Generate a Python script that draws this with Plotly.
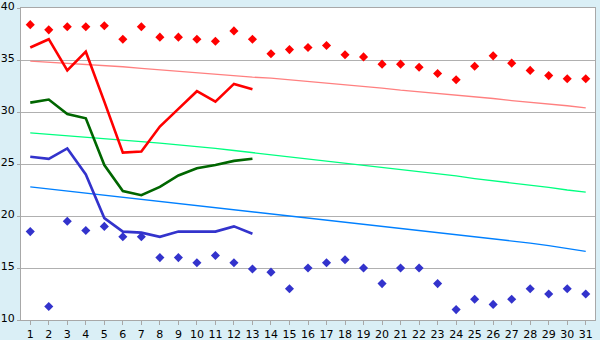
import plotly.graph_objects as go

days = list(range(1, 32))

# record highs / lows (markers)
rec_max = [38.4, 37.9, 38.2, 38.2, 38.3, 37.0, 38.2, 37.2, 37.2, 37.0, 36.8, 37.8, 37.0,
           35.6, 36.0, 36.2, 36.4, 35.5, 35.3, 34.6, 34.6, 34.3, 33.7, 33.1, 34.4, 35.4,
           34.7, 34.0, 33.5, 33.2, 33.2]
rec_min = [18.5, 11.3, 19.5, 18.6, 19.0, 18.0, 18.0, 16.0, 16.0, 15.5, 16.2, 15.5, 14.9,
           14.6, 13.0, 15.0, 15.5, 15.8, 15.0, 13.5, 15.0, 15.0, 13.5, 11.0, 12.0, 11.5,
           12.0, 13.0, 12.5, 13.0, 12.5]

# normals (trend lines)
norm_max = [34.9, 34.8, 34.7, 34.6, 34.5, 34.35, 34.2, 34.05, 33.9, 33.8, 33.65, 33.5,
            33.35, 33.25, 33.1, 32.95, 32.8, 32.6, 32.45, 32.3, 32.1, 31.95, 31.75, 31.6,
            31.45, 31.3, 31.1, 30.95, 30.8, 30.6, 30.4]
norm_mean = [28.0, 27.87, 27.73, 27.6, 27.45, 27.3, 27.15, 27.0, 26.85, 26.7, 26.5, 26.3,
             26.1, 25.9, 25.65, 25.45, 25.25, 25.05, 24.85, 24.65, 24.45, 24.25, 24.05,
             23.85, 23.6, 23.4, 23.2, 22.95, 22.75, 22.5, 22.3]
norm_min = [22.8, 22.6, 22.4, 22.2, 22.0, 21.85, 21.65, 21.45, 21.25, 21.05, 20.85, 20.65,
            20.45, 20.25, 20.0, 19.8, 19.6, 19.4, 19.2, 19.0, 18.8, 18.6, 18.45, 18.25,
            18.0, 17.8, 17.6, 17.4, 17.15, 16.9, 16.6]

# observed this month (days 1-13)
obs_days = list(range(1, 14))
obs_max = [36.2, 37.0, 34.0, 35.8, 31.0, 26.1, 26.2, 28.6, 30.3, 32.0, 31.0, 32.7, 32.2]
obs_mean = [30.9, 31.2, 29.8, 29.4, 24.9, 22.4, 22.0, 22.8, 23.9, 24.6, 24.9, 25.3, 25.5]
obs_min = [25.7, 25.5, 26.5, 24.0, 19.8, 18.5, 18.4, 18.0, 18.5, 18.5, 18.5, 19.0, 18.3]

y_ticks = [10, 15, 20, 25, 30, 35, 40]

fig = go.Figure()

def line(x, y, color, width):
    fig.add_trace(go.Scatter(x=x, y=y, mode="lines",
                             line=dict(color=color, width=width), hoverinfo="skip"))

line(days, norm_max, "#FF8080", 1.3)
line(days, norm_mean, "#00FF80", 1.3)
line(days, norm_min, "#0080FF", 1.3)
line(obs_days, obs_max, "#FF0000", 2.6)
line(obs_days, obs_mean, "#006600", 2.6)
line(obs_days, obs_min, "#3333CC", 2.6)

fig.add_trace(go.Scatter(x=days, y=rec_max, mode="markers",
                         marker=dict(symbol="diamond", size=7, color="#FF0000"),
                         hoverinfo="skip"))
fig.add_trace(go.Scatter(x=days, y=rec_min, mode="markers",
                         marker=dict(symbol="diamond", size=7, color="#3333CC"),
                         hoverinfo="skip"))

fig.update_layout(
    width=600, height=340,
    margin=dict(l=21, r=5, t=8, b=20, autoexpand=False),
    paper_bgcolor="#DAEFF6",
    plot_bgcolor="#FFFFFF",
    showlegend=False,
    font=dict(family="DejaVu Sans", size=11, color="#000000"),
)
fig.update_xaxes(
    range=[0.5, 31.5], tickmode="array", tickvals=days, ticktext=[str(d) for d in days],
    showgrid=False, zeroline=False, automargin=False, ticklabeloverflow="allow",
    showline=True, linecolor="#A8A8A8", linewidth=1, mirror=True,
    ticks="outside", ticklen=4, tickcolor="#A8A8A8",
    tickfont=dict(family="DejaVu Sans", size=11),
)
fig.update_yaxes(
    range=[10, 40.001], tickmode="array", tickvals=y_ticks,
    showgrid=True, gridcolor="#B0B0B0", gridwidth=1, zeroline=False, automargin=False,
    ticklabeloverflow="allow", ticklabelshift=-2,
    showline=True, linecolor="#A8A8A8", linewidth=1, mirror=True,
    ticks="outside", ticklen=3, tickcolor="#A8A8A8",
    tickfont=dict(family="DejaVu Sans", size=11),
)

fig.write_html("out.html")
